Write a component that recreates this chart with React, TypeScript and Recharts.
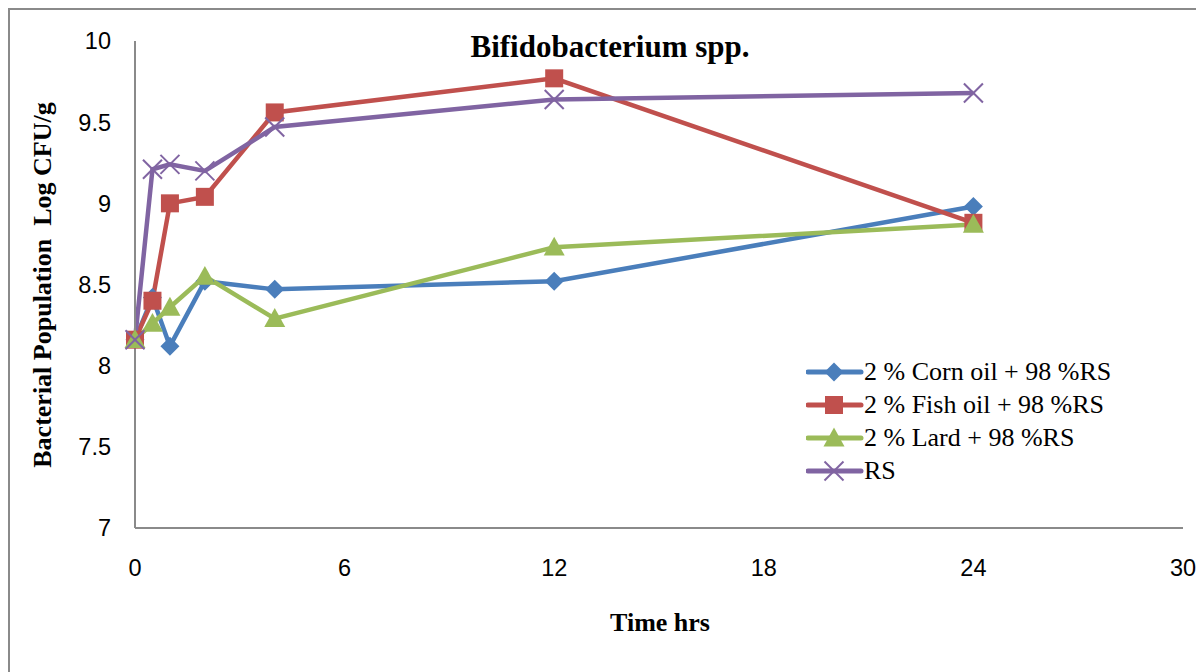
import React from 'react';
import { LineChart, Line, XAxis, YAxis } from 'recharts';

const times = [0, 0.5, 1, 2, 4, 12, 24];
const cornOil = [8.16, 8.42, 8.12, 8.52, 8.47, 8.52, 8.98];
const fishOil = [8.16, 8.40, 9.0, 9.04, 9.56, 9.77, 8.88];
const lard = [8.16, 8.26, 8.36, 8.55, 8.29, 8.73, 8.87];
const rs = [8.16, 9.21, 9.24, 9.2, 9.47, 9.64, 9.68];

const xTicks = [0, 6, 12, 18, 24, 30];
const yTicks = [7, 7.5, 8, 8.5, 9, 9.5, 10];

const seriesNames = ['2 % Corn oil + 98 %RS', '2 % Fish oil + 98 %RS', '2 % Lard + 98 %RS', 'RS'];
const colors = ['#4A7EBB', '#C0504D', '#9BBB59', '#8064A2'];
const shapes = ['diamond', 'square', 'triangle', 'cross'];

const data = times.map((t, i) => ({
  t,
  corn: cornOil[i],
  fish: fishOil[i],
  lard: lard[i],
  rs: rs[i],
}));

const Marker = ({ cx, cy, shape, color }: any) => {
  if (cx == null || cy == null) return null;
  if (shape === 'diamond') {
    const r = 9.5;
    return <polygon points={`${cx},${cy - r} ${cx + r},${cy} ${cx},${cy + r} ${cx - r},${cy}`} fill={color} />;
  }
  if (shape === 'square') {
    const r = 9;
    return <rect x={cx - r} y={cy - r} width={2 * r} height={2 * r} fill={color} />;
  }
  if (shape === 'triangle') {
    const r = 10.5;
    return <polygon points={`${cx},${cy - r} ${cx + r},${cy + r * 0.8} ${cx - r},${cy + r * 0.8}`} fill={color} />;
  }
  const r = 9.5;
  return (
    <g stroke={color} strokeWidth={2}>
      <line x1={cx - r} y1={cy - r} x2={cx + r} y2={cy + r} />
      <line x1={cx - r} y1={cy + r} x2={cx + r} y2={cy - r} />
    </g>
  );
};

const makeDot = (i: number) => (props: any) => (
  <Marker key={`${i}-${props.index}`} cx={props.cx} cy={props.cy} shape={shapes[i]} color={colors[i]} />
);

const LegendBlock = () => (
  <div
    style={{
      position: 'absolute',
      left: 798,
      top: 347,
      fontFamily: '"Liberation Serif", "Times New Roman", serif',
      fontSize: 26,
      color: '#000',
    }}
  >
    {seriesNames.map((n, i) => (
      <div key={n} style={{ display: 'flex', alignItems: 'center', height: 33, whiteSpace: 'pre' }}>
        <svg width={58} height={30} style={{ display: 'block' }}>
          <line x1={2} y1={15} x2={55} y2={15} stroke={colors[i]} strokeWidth={5} strokeLinecap="round" />
          <Marker cx={28} cy={15} shape={shapes[i]} color={colors[i]} />
        </svg>
        <span>{n}</span>
      </div>
    ))}
  </div>
);

const keys = ['corn', 'fish', 'lard', 'rs'];

export default function App() {
  const tickStyle = { fontFamily: '"Liberation Sans", Arial, sans-serif', fontSize: 23.5, fill: '#000' };
  return (
    <div style={{ position: 'relative', width: 1196, height: 664 }}>
      <div
        style={{
          position: 'absolute',
          left: 0,
          top: 0,
          width: 1196,
          height: 664,
          borderTop: '2px solid #8a8a8a',
          borderLeft: '2px solid #8a8a8a',
          boxSizing: 'border-box',
        }}
      />
      <div style={{ position: 'absolute', left: 0, top: 0 }}>
        <LineChart width={1196} height={664} data={data} margin={{ top: 33, right: 21, bottom: 84, left: 67 }}>
          <XAxis
            dataKey="t"
            type="number"
            domain={[0, 30]}
            ticks={xTicks}
            tickLine={false}
            tickSize={0}
            tickMargin={31}
            axisLine={{ stroke: '#8a8a8a', strokeWidth: 2 }}
            tick={tickStyle}
            height={60}
            interval={0}
          />
          <YAxis
            type="number"
            domain={[7, 10]}
            ticks={yTicks}
            tickLine={false}
            tickSize={0}
            tickMargin={24}
            axisLine={{ stroke: '#8a8a8a', strokeWidth: 2 }}
            tick={tickStyle}
            width={60}
            interval={0}
          />
          {keys.map((k, i) => (
            <Line
              key={k}
              dataKey={k}
              name={seriesNames[i]}
              stroke={colors[i]}
              strokeWidth={4.5}
              dot={makeDot(i)}
              activeDot={false}
              isAnimationActive={false}
            />
          ))}
        </LineChart>
      </div>
      <LegendBlock />
      <svg width={1196} height={664} style={{ position: 'absolute', left: 0, top: 0, pointerEvents: 'none' }}>
        <text
          x={602}
          y={49}
          textAnchor="middle"
          style={{ fontFamily: '"Liberation Serif", "Times New Roman", serif', fontWeight: 'bold', fontSize: 31 }}
        >
          Bifidobacterium spp.
        </text>
        <text
          x={652}
          y={623}
          textAnchor="middle"
          style={{ fontFamily: '"Liberation Serif", "Times New Roman", serif', fontWeight: 'bold', fontSize: 26 }}
        >
          Time hrs
        </text>
        <text
          transform="translate(43, 277) rotate(-90)"
          textAnchor="middle"
          style={{ fontFamily: '"Liberation Serif", "Times New Roman", serif', fontWeight: 'bold', fontSize: 26, whiteSpace: 'pre' }}
        >
          Bacterial Population  Log CFU/g
        </text>
      </svg>
    </div>
  );
}
